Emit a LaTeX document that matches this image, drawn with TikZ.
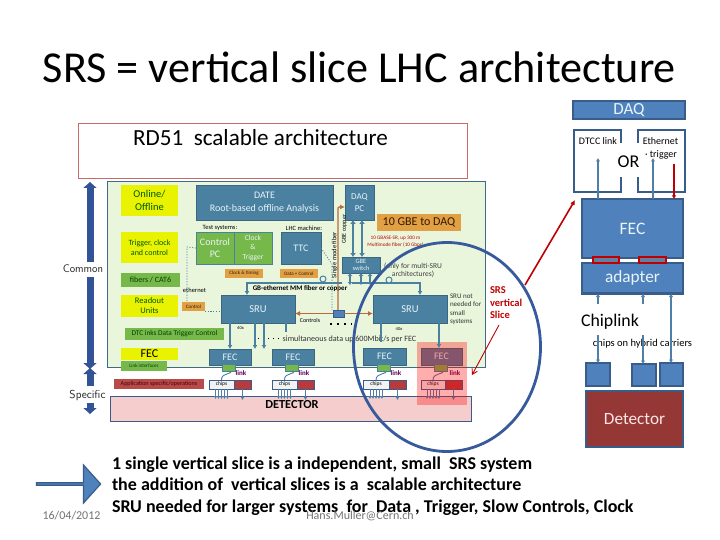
\documentclass[tikz,border=0pt]{standalone}
\usepackage{fontspec}
\setmainfont{Carlito}
\usetikzlibrary{arrows.meta,shapes.arrows}
\definecolor{pptblue}{HTML}{4F81BD}
\definecolor{pptline}{HTML}{385D8A}
\definecolor{slate}{HTML}{4A80A0}
\definecolor{panel}{HTML}{E9F6DC}
\definecolor{panelline}{HTML}{3F6A8A}
\definecolor{ygreen}{HTML}{76B84A}
\definecolor{yel}{HTML}{E9F200}
\definecolor{orng}{HTML}{E2A045}
\definecolor{wire}{HTML}{4F7FA8}
\definecolor{rust}{HTML}{B86A3A}
\definecolor{pinkdet}{HTML}{F6CDCD}
\definecolor{darkred}{HTML}{C00000}
\definecolor{detred}{HTML}{953735}
\definecolor{lighttxt}{HTML}{E8F4FA}
\definecolor{appred}{HTML}{B84A4A}
\definecolor{chipr}{HTML}{B93A3A}
\newcommand{\fsz}[1]{\fontsize{#1}{#1}\selectfont}
\newcommand{\fsl}[2]{\fontsize{#1}{#2}\selectfont}
% \pb{name}{x1}{y1}{x2}{y2}{style}{text}
\newcommand{\pb}[7]{%
  \pgfmathsetmacro{\cxx}{(#2+#4)/2}\pgfmathsetmacro{\cyy}{(#3+#5)/2}%
  \pgfmathsetmacro{\wdd}{#4-#2}\pgfmathsetmacro{\htt}{#5-#3}%
  \node[box={\wdd}{\htt},#6] (#1) at (\cxx,\cyy) {#7};}
\tikzset{
  box/.style 2 args={rectangle,inner sep=0pt,outer sep=0pt,minimum width=#1*1pt,minimum height=#2*1pt,align=center},
  txt/.style={inner sep=0pt,outer sep=0pt,align=center,text depth=0pt},
  ppt/.style={fill=pptblue,draw=pptline,line width=2.4pt,text=lighttxt},
  slatebox/.style={fill=slate,draw=slate!80!black,line width=.5pt,text=lighttxt},
  greenbox/.style={fill=ygreen,text=lighttxt},
  labgreen/.style={fill=ygreen,text=black!75!green},
  yellowbox/.style={fill=yel,text=black!65!green},
  orangebox/.style={fill=orng,text=black!80!orange},
  linkbox/.style={fill=ygreen,draw=slate,line width=.6pt},
  chipred/.style={fill=chipr,draw=pptline,line width=.8pt},
  wirebold/.style={draw=slate,line width=2pt,-{Latex[length=4pt,width=5pt]}},
  wirethin/.style={draw=wire,line width=.9pt,-{Latex[length=3pt,width=3.5pt]}},
  pptwire/.style={draw=wire,line width=1.6pt,-{Latex[length=3.5pt,width=4.5pt]}},
  redarrow/.style={draw=darkred,line width=1.6pt,-{Latex[length=5pt,width=5pt]}},
  rustarrow/.style={draw=rust,line width=1.1pt,-{Latex[length=5pt,width=5pt]}},
}
\begin{document}
\begin{tikzpicture}[x=1pt,y=-1pt]
\useasboundingbox (0,0) rectangle (720,540);
\fill[white] (0,0) rectangle (720,540);

% title
\node[txt,anchor=center] (title) at (359.5,67) {\fsz{44.2}SRS = vertical slice LHC architecture};

% RD51 header
\pb{rdbox}{78}{124}{467}{179}{draw=red!45!gray!80,line width=1pt,fill=white}{}
\node[txt] (rdtext) at (260.5,137) {\fsz{23.1}RD51\ \ scalable architecture};

% panel
\pb{panelbox}{107}{182}{485}{367}{fill=panel,draw=panelline,line width=1pt}{}
% detector band
\pb{detband}{110}{396}{471}{421}{fill=pinkdet,draw=pptline,line width=1pt}{}
% left category labels
\pb{online}{121}{185}{178}{216}{yellowbox,font=\fsl{10.5}{12.5}}{Online/\\Offline}
\pb{trig}{121}{232}{178}{263}{yellowbox,font=\fsl{8}{10}}{Trigger, clock\\and control}
\pb{fibers}{121}{273}{180}{287}{labgreen}{\fsz{8}fibers / CAT6}
\pb{readout}{121}{295}{178}{317}{yellowbox,font=\fsl{8.5}{10}}{Readout\\Units}
\pb{dtcl}{125}{328}{224}{340}{labgreen}{\fsz{7.3}DTC inks Data Trigger Control}
\pb{fecl}{121}{348}{178}{360}{yellowbox}{\fsz{12}\textcolor{black}{FEC}}
\pb{linkl}{121}{361}{167}{371}{labgreen}{\fsz{5}Link interfaces}
\pb{appl}{114}{379}{204}{389}{fill=appred,text=black!70!red}{\fsz{6.1}Application specific/operations}

% upper boxes
\pb{date}{196}{185}{333}{220}{slatebox,font=\fsl{10}{13}}{DATE\\Root-based offline Analysis}
\node[txt] (testsys) at (220,227.5) {\fsz{6.5}Test systems:};
\node[txt] (lhc) at (304,228) {\fsz{6.5}LHC machine:};
\pb{cpc}{196}{232}{234}{264}{greenbox,draw=slate,line width=.8pt,font=\fsl{10}{12}}{Control\\PC}
\pb{ckt}{234}{232}{272}{264}{greenbox,draw=slate,line width=.8pt,font=\fsl{7.5}{9.5}}{Clock\\\&\\Trigger}
\pb{ttc}{281}{232}{321}{264}{slatebox}{\fsz{10}TTC}
\pb{cktim}{225}{269}{263}{278}{orangebox}{\fsz{5}Clock \& timing}
\pb{datac}{280}{269}{318}{278}{orangebox}{\fsz{5}Data + Control}
\pb{daqpc}{345}{185}{374}{220}{slatebox,font=\fsl{9}{11.5}}{DAQ\\PC}
\pb{tengbe}{377}{214}{461}{231}{orangebox}{\fsz{12}10 GBE to DAQ}
\node[txt,text=red!75!black,font=\fsl{5.2}{7}] (sr) at (395.5,241) {10 GBASE-SR, up 300 m\\Multimode fiber (10 Gbps)};
\pb{gbe}{342}{257}{380}{273}{slatebox,font=\fsl{6.5}{7.5}}{GBE\\switch}
\node[txt,text=black!75,font=\fsl{7.5}{8.5}] (only) at (413,270) {(only for multi-SRU\\architectures)};
\node[txt,rotate=90] (smf) at (334,255) {\fsz{6.5}Single mode fiber};
\node[txt,rotate=90] (gbc) at (344,229) {\fsz{6}GBE copper};
\node[txt] (ge) at (300,288) {\fsz{7}\bfseries GB-ethernet MM fiber or copper};
\node[txt] (eth) at (194.5,290) {\fsz{6.5}ethernet};
\pb{ctrlo}{182}{302}{205}{311}{orangebox}{\fsz{5}Control}

% SRUs
\pb{srua}{221}{295}{295}{323}{slatebox}{\fsz{10.5}SRU}
\pb{srub}{373}{295}{447}{323}{slatebox}{\fsz{10.5}SRU}
\node[txt,align=left,anchor=north west,text=black!80,font=\fsl{7}{8.4}] (srunote) at (450,294) {SRU not\\needed for\\small\\systems};
\node[txt,align=left,anchor=north west,text=darkred,font=\fsl{10.5}{12.5}\bfseries] (slice) at (490,287) {SRS\\vertical\\Slice};
\pb{sq}{333}{310}{344}{317}{fill=pptblue,draw=pptline,line width=.6pt}{}
\node[txt] (ctl) at (310,320.5) {\fsz{6}Controls};
\coordinate (dots1) at (330,324);
\coordinate (dots2) at (352,324);
\draw[line width=1.5pt,dash pattern=on 1.5pt off 5.5pt] (dots1) -- (dots2);
\node[txt] (f40a) at (240.5,328.5) {\fsz{4.5}40x};
\node[txt] (f40b) at (399,329) {\fsz{4.5}40x};
\node[txt,text=black!80] (simul) at (349.5,339) {\fsz{8.1}simultaneous data up 600Mbit/s per FEC};
\coordinate (d3a) at (258,338);
\coordinate (d3b) at (280,338);
\draw[line width=.6pt,dash pattern=on 1pt off 4pt] (d3a) -- (d3b);

% FECs
\pb{feca}{209}{349}{251}{365}{slatebox}{\fsz{10}FEC}
\pb{fecb}{272}{349}{314}{365}{slatebox}{\fsz{10}FEC}
\pb{fecc}{363}{348}{406}{365}{slatebox}{\fsz{10}FEC}
\pb{fecd}{421}{348}{462}{365}{slatebox}{\fsz{10}FEC}
% links
\pb{la}{222}{364}{235}{371}{linkbox}{}
\pb{lb}{285}{364}{298}{371}{linkbox}{}
\pb{lc}{377}{364}{390}{371}{linkbox}{}
\pb{ld}{434}{364}{447}{371}{linkbox}{}
\foreach \n/\xx in {a/241,b/304,c/396,d/455}{\node[txt,text=violet!70!black] (lt\n) at (\xx,373.5) {\fsz{7}\bfseries link};}
% chip carriers
\foreach \n/\xa/\xb/\xc in {a/209/251/234,b/272/314/297,c/363/406/389,d/421/462/445}{
  \pb{cr\n}{\xc}{380}{\xb}{389}{chipred}{}
  \pb{cw\n}{\xa}{380}{\xc}{389}{fill=white!90!gray,draw=pptline,line width=.8pt}{\fsz{5.5}chips}
  \draw[line width=.9pt,draw=wire] (l\n.south) .. controls ([xshift=8pt,yshift=-3pt]l\n.south) and ([xshift=-8pt,yshift=-1pt]l\n.south) .. (cw\n.north);
  \foreach \dx in {-6,-3,0,3,6}{\draw[wirethin] ([xshift=\dx pt]cw\n.south) -- ++(0,10);}
  \draw[wirethin] (cr\n.south) -- ++(0,11);
}
\node[txt] (dettext) at (292,404) {\fsz{12.3}\bfseries DETECTOR};
% slice overlay
\pb{sliceov}{417}{342}{467}{405}{fill=red,fill opacity=.32}{}

% wires
\draw[wirebold] (srua.south -| feca.north) -- (feca.north);
\coordinate (ta) at (255,349); \coordinate (tb) at (264,349);
\draw[wirebold] (srua.south -| ta) -- (ta);
\draw[wirebold] (srua.south -| tb) -- (tb);
\coordinate (tc) at (286,332);
\draw[draw=slate,line width=2pt] (srua.south -| tc) -- (tc);
\coordinate (td) at (381,342); \coordinate (te) at (439,348);
\draw[draw=slate,line width=2pt] (srub.south -| td) -- (td);
\draw[wirebold] (srub.south -| te) -- (te);

\draw[rustarrow] (sq.west) -- (srua.east |- sq.west);
\draw[rustarrow] (sq.east) -- (srub.west |- sq.east);
\coordinate (rust1) at (338,207);
\draw[rustarrow,rounded corners=1pt] (sq.north -| rust1) -- (rust1) -- (daqpc.west |- rust1);

% GBE links
\coordinate (gbl) at (353,220);\coordinate (gbr) at (362,220);
\draw[draw=slate,line width=2.4pt,{Latex[length=4pt,width=6pt]}-{Latex[length=4pt,width=6pt]}] (gbl) -- (gbe.north -| gbl);
\draw[draw=slate,line width=2.4pt,{Latex[length=4pt,width=6pt]}-{Latex[length=4pt,width=6pt]}] (gbr) -- (gbe.north -| gbr);
\foreach \xx in {350,361,370}{\coordinate (gb\xx) at (\xx,285);
  \draw[draw=slate,line width=1.6pt,{Latex[length=3pt,width=5pt]}-{Latex[length=3pt,width=5pt]}] (gb\xx) -- (gbe.south -| gb\xx);}
\coordinate (gbh) at (420,283); \coordinate (gbh2) at (247,283); \coordinate (gbh3) at (352,283); \coordinate (gbh4) at (342,283);
\draw[draw=slate,line width=1.2pt,-{Latex[length=4pt,width=5pt]}] (gbh3) -- (gbh) -- (srub.north -| gbh);
\draw[draw=slate,line width=1.2pt,-{Latex[length=4pt,width=5pt]}] (gbh4) -- (gbh2) -- (srua.north -| gbh2);
\node[circle,draw=slate,line width=1pt,fill=panel,minimum size=6pt,inner sep=0pt] (ca) at (323,279) {};
\node[circle,draw=slate,line width=1pt,fill=panel,minimum size=6pt,inner sep=0pt] (cb) at (389,280) {};
% dotted
\coordinate (dq) at (187,247);
\draw[draw=slate,line width=.7pt,dash pattern=on 1.2pt off 1.5pt] (cpc.west) -- (dq) -- (ctrlo.north -| dq);
\coordinate (dq2) at (213,311);
\draw[draw=slate,line width=.7pt,dash pattern=on 1.2pt off 1.5pt] (ctrlo.south east) -- (srua.west |- dq2);
\coordinate (dq3) at (332,264);
\draw[draw=slate,line width=.7pt,dash pattern=on 1.2pt off 1.5pt] (ttc.east) -- (dq3) -- (sq.north -| dq3);

% big ellipse
\coordinate (elc) at (447,347);
\draw[draw=panelline!85!blue,line width=2.8pt] (elc) ellipse [x radius=93.5,y radius=104.5];

% big left arrows
\coordinate (ua1) at (90,262); \coordinate (ua2) at (90,182);
\draw[draw=pptline!90!blue,line width=7pt,-{Triangle[length=6pt,width=13pt]}] (ua1) -- (ua2);
\node[txt,text=black!85] (common) at (83,269) {\fsz{11}\sffamily Common};
\coordinate (ub1) at (90,277); \coordinate (ub2) at (90,369);
\draw[draw=pptline!90!blue,line width=7pt,-{Triangle[length=6pt,width=13pt]}] (ub1) -- (ub2);
\coordinate (uc1) at (90,386); \coordinate (uc2) at (90,368);
\draw[draw=pptline!90!blue,line width=7pt,-{Triangle[length=6pt,width=13pt]}] (uc1) -- (uc2);
\node[txt,text=black!85] (specific) at (87.5,394) {\fsz{11.5}\sffamily Specific};
\coordinate (ud1) at (90,403); \coordinate (ud2) at (90,414);
\draw[draw=pptline!90!blue,line width=7pt,-{Triangle[length=6pt,width=13pt]}] (ud1) -- (ud2);

% red arrows
\coordinate (ra1) at (525,285); \coordinate (ra2) at (575,200);
\draw[redarrow] (ra1) -- (ra2);
\coordinate (rb1) at (499,325); \coordinate (rb2) at (472,375);
\draw[draw=darkred,line width=.9pt,-{Straight Barb[length=5pt,width=6pt]}] (rb1) -- (rb2);

% ---- right column
\pb{daq}{573}{101}{685}{119}{ppt}{\fsz{17}DAQ}
\pb{dtcc}{574}{130}{621}{192}{fill=white,draw=pptline,line width=2.4pt}{}
\pb{ethb}{638}{130}{685}{192}{fill=white,draw=pptline,line width=2.4pt}{}
\pb{orgap}{615}{143}{644}{177}{fill=white}{}
\node[txt] (ortxt) at (628.5,162) {\fsz{18}OR};
\node[txt] (dtcct) at (598,141) {\fsz{10}DTCC link};
\node[txt] (etht) at (660.5,141) {\fsz{10}Ethernet};
\node[txt] (trigt) at (661,154) {\fsz{10}· trigger};
\pb{fecr}{582}{199}{683}{258}{ppt}{\fsz{17.5}FEC}
\pb{adapt}{582}{263}{683}{293.5}{ppt}{\fsz{17.3}adapter}
\pb{cn1}{593}{257}{619}{263}{fill=pptblue!60!gray,draw=darkred,line width=1.6pt}{}
\pb{cn2}{639}{257}{666}{263}{fill=pptblue!60!gray,draw=darkred,line width=1.6pt}{}
\node[txt] (chipl) at (610,320) {\fsz{17.8}Chiplink};
\node[txt] (chipt) at (642.5,343) {\fsz{10.5}chips on hybrid carriers};
\pb{ch1}{586}{363}{610}{386}{ppt}{}
\pb{ch2}{632}{364}{656}{386}{ppt}{}
\pb{ch3}{660}{363}{683}{386}{ppt}{}
\pb{detr}{586}{391}{683}{447}{fill=detred,draw=pptline,line width=2.4pt,text=white!90!red}{\fsz{17.2}Detector}

% right wires
\coordinate (x1) at (598,158); \coordinate (x2) at (653,158); \coordinate (x3) at (674,164);
\draw[pptwire] (fecr.north -| x1) -- (x1);
\draw[pptwire] (fecr.north -| x2) -- (x2);
\draw[draw=darkred,line width=1.4pt,-{Latex[length=3.5pt,width=4.5pt]}] (x3) -- (fecr.north -| x3);
\coordinate (y1) at (598,304); \coordinate (y2) at (643,304); \coordinate (y3) at (671,294);
\draw[pptwire] (y1) -- (adapt.south -| y1);
\draw[pptwire] (y2) -- (adapt.south -| y2);
\coordinate (z1) at (598,335); \coordinate (z2) at (643,335);
\draw[pptwire] (z1) -- (ch1.north -| z1);
\draw[pptwire] (z2) -- (ch2.north -| z2);
\draw[pptwire,{Latex[length=3.5pt,width=4.5pt]}-{Latex[length=3.5pt,width=4.5pt]}] (adapt.south -| y3) -- (ch3.north -| y3);

% bottom
\node[single arrow,draw=pptline,line width=1.2pt,fill=pptblue,minimum height=64pt,minimum width=38pt,single arrow head extend=8pt,inner sep=0pt,single arrow tip angle=96] (barrow) at (68,484) {};
\node[txt,anchor=west] (l1) at (112,463) {\fsz{18}\bfseries 1 single vertical slice is a independent, small\ \ SRS system};
\node[txt,anchor=west] (l2) at (112,484.5) {\fsz{18}\bfseries the addition of\ \ vertical slices is a\ \ scalable architecture};
\node[txt,anchor=west] (l3) at (112,506) {\fsz{18}\bfseries SRU needed for larger systems\ \ for\ \ Data , Trigger, Slow Controls, Clock};
\node[txt,text=black!55] (dt) at (71.5,515) {\fsz{12}16/04/2012};
\node[txt,text=black!55] (hm) at (360,515) {\fsz{12}Hans.Muller@Cern.ch};
\end{tikzpicture}
\end{document}
